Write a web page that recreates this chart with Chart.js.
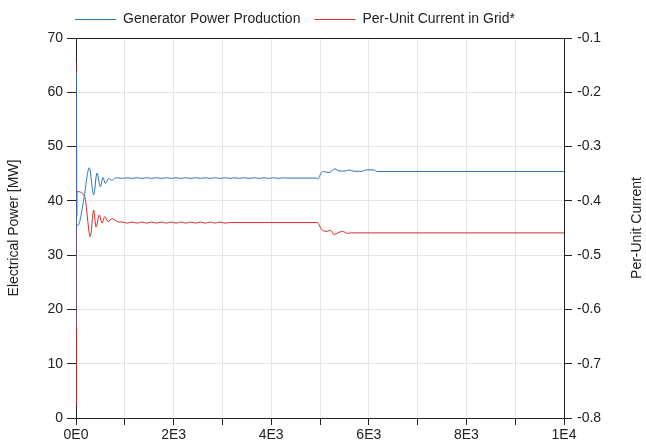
<!DOCTYPE html>
<html>
<head>
<script src="https://cdn.jsdelivr.net/npm/chart.js@4.4.0/dist/chart.umd.min.js"></script>
<style>
  body { margin: 0; background: #fff; }
  #wrap { width: 646px; height: 445px; }
</style>
</head>
<body>
<div id="wrap"><canvas id="plot"></canvas></div>
<script>
// time axis [s]
var xTickLabels = ['0E0', '2E3', '4E3', '6E3', '8E3', '1E4'];
var leftTitle = 'Electrical Power [MW]';
var rightTitle = 'Per-Unit Current';

// Generator Power Production [MW] (left axis)
var blueTime = [0, 4, 8, 41, 157, 273, 362, 430, 499, 553, 601, 670, 740, 800,
  850, 950, 1050, 1150, 1250, 1350, 1450, 1550, 1650, 1750, 1850, 1950,
  2050, 2150, 2250, 2350, 2450, 2550, 2650, 2750, 2850, 2950, 3050, 3150,
  3250, 3350, 3450, 3550, 3650, 3750, 3850, 3950, 4050, 4150, 4250,
  4300, 4929, 4956, 5025, 5079, 5183, 5306, 5389, 5526, 5595, 5698, 5870,
  5939, 6110, 6166, 10000];
var bluePower = [16.7, 63.6, 35.6, 35.5, 40.1, 46.1, 41.1, 45.1, 42.6, 44.3, 43.2, 44.1, 43.8, 44.2,
  44.25, 44.15, 44.25, 44.15, 44.25, 44.15, 44.25, 44.15, 44.25, 44.15, 44.25, 44.15,
  44.25, 44.15, 44.25, 44.15, 44.25, 44.15, 44.25, 44.15, 44.25, 44.15, 44.25, 44.15,
  44.25, 44.15, 44.25, 44.15, 44.25, 44.15, 44.25, 44.15, 44.25, 44.15, 44.25,
  44.2, 44.2, 44.0, 45.2, 45.4, 45.2, 45.9, 45.5, 45.5, 45.7, 45.45, 45.45,
  45.7, 45.7, 45.4, 45.4];

// Per-Unit Current in Grid (right axis)
var redTime = [0, 3, 6, 9, 12, 15, 20, 177, 293, 362, 410, 478, 533, 588, 656, 740, 875,
  950, 1050, 1150, 1250, 1350, 1450, 1550, 1650, 1750, 1850, 1950,
  2050, 2150, 2250, 2350, 2450, 2550, 2650, 2750, 2850, 2950, 3050,
  3150, 4942, 5045, 5149, 5217, 5285, 5368, 5458, 5561, 5630, 10000];
var redCurrent = [-0.144, -0.778, -0.288, -0.438, -0.298, -0.428, -0.383, -0.392, -0.466, -0.417,
  -0.448, -0.426, -0.441, -0.429, -0.438, -0.433, -0.439,
  -0.439, -0.441, -0.439, -0.441, -0.439, -0.441, -0.439, -0.441, -0.439, -0.441, -0.439,
  -0.441, -0.439, -0.441, -0.439, -0.441, -0.439, -0.441, -0.439, -0.441, -0.439, -0.441,
  -0.440, -0.440, -0.454, -0.456, -0.454, -0.462, -0.459, -0.456, -0.460, -0.459, -0.459];

var fontFamily = '"Liberation Sans", Arial, sans-serif';
Chart.defaults.font.family = fontFamily;
Chart.defaults.font.size = 14;
Chart.defaults.color = '#222';

// legend, axis titles and top frame line
var frameAndLabels = {
  id: 'frameAndLabels',
  afterDraw: function(chart) {
    var ctx = chart.ctx, a = chart.chartArea;
    ctx.save();
    ctx.strokeStyle = '#222';
    ctx.lineWidth = 1;
    ctx.beginPath();
    ctx.moveTo(a.left, a.top + 0.5);
    ctx.lineTo(a.right, a.top + 0.5);
    ctx.stroke();

    ctx.font = '14px ' + fontFamily;
    ctx.fillStyle = '#222';
    ctx.textAlign = 'center';
    ctx.textBaseline = 'middle';
    var midY = (a.top + a.bottom) / 2;
    ctx.save();
    ctx.translate(14, midY);
    ctx.rotate(-Math.PI / 2);
    ctx.fillText(leftTitle, 0, 0);
    ctx.restore();
    ctx.save();
    ctx.translate(637, midY);
    ctx.rotate(-Math.PI / 2);
    ctx.fillText(rightTitle, 0, 0);
    ctx.restore();

    var x = 75, y = 19;
    ctx.textAlign = 'left';
    chart.data.datasets.forEach(function(ds) {
      ctx.strokeStyle = ds.borderColor;
      ctx.beginPath();
      ctx.moveTo(x, y + 0.5);
      ctx.lineTo(x + 41, y + 0.5);
      ctx.stroke();
      x += 48;
      ctx.fillText(ds.label, x, y);
      x += ctx.measureText(ds.label).width + 14;
    });
    ctx.restore();
  }
};

var ctx = document.getElementById('plot').getContext('2d');
var chart = new Chart(ctx, {
  type: 'line',
  data: {
    datasets: [{
      label: 'Generator Power Production',
      data: blueTime.map(function(t, i) { return {x: t, y: bluePower[i]}; }),
      borderColor: '#2f72b3',
      borderWidth: 1,
      pointRadius: 0,
      cubicInterpolationMode: 'monotone',
      yAxisID: 'y'
    }, {
      label: 'Per-Unit Current in Grid*',
      data: redTime.map(function(t, i) { return {x: t, y: redCurrent[i]}; }),
      borderColor: '#d62a2a',
      borderWidth: 1,
      pointRadius: 0,
      cubicInterpolationMode: 'monotone',
      yAxisID: 'y1'
    }]
  },
  options: {
    responsive: true,
    maintainAspectRatio: false,
    animation: false,
    devicePixelRatio: 1,
    layout: { padding: { top: 38, left: 0, right: 0, bottom: 0 } },
    plugins: {
      legend: { display: false },
      tooltip: { enabled: false }
    },
    scales: {
      x: {
        type: 'linear',
        min: 0,
        max: 10000,
        afterFit: function(s) { s.height = 27; },
        ticks: {
          stepSize: 1000,
          autoSkip: false,
          maxRotation: 0,
          padding: 2,
          callback: function(v) { return v % 2000 === 0 ? xTickLabels[v / 2000] : ''; }
        },
        grid: { color: '#e6e6e6', tickColor: '#222', tickLength: 7 },
        border: { color: '#222' }
      },
      y: {
        position: 'left',
        min: 0,
        max: 70,
        afterFit: function(s) { s.width = 76; },
        ticks: { stepSize: 10, padding: 4 },
        grid: { color: '#e6e6e6', tickColor: '#222', tickLength: 9 },
        border: { color: '#222' }
      },
      y1: {
        position: 'right',
        min: -0.8,
        max: -0.1,
        afterFit: function(s) { s.width = 82; },
        ticks: {
          stepSize: 0.1,
          padding: 5,
          callback: function(v) { return v.toFixed(1); }
        },
        grid: { drawOnChartArea: false, tickColor: '#222', tickLength: 8 },
        border: { color: '#222' }
      }
    }
  },
  plugins: [frameAndLabels]
});
</script>
</body>
</html>
